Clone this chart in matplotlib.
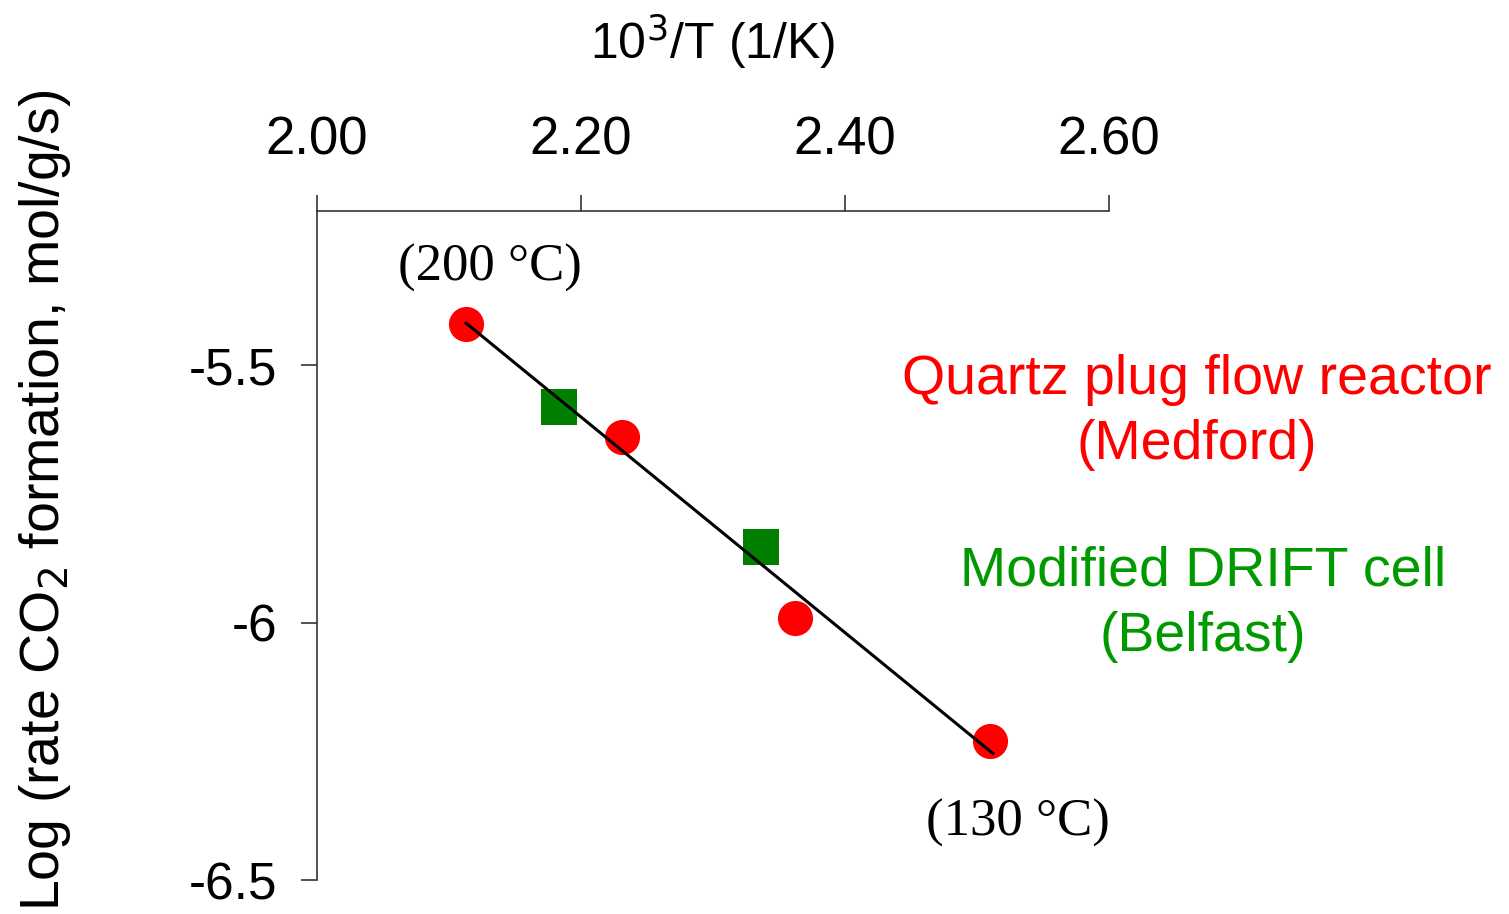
import matplotlib
matplotlib.use('Agg')
import matplotlib.pyplot as plt

# Arrhenius data: 10^3/T vs log rate
quartz_x = [2.113, 2.231, 2.362, 2.510]
quartz_y = [-5.42, -5.640, -5.991, -6.229]
drift_x = [2.183, 2.336]
drift_y = [-5.580, -5.853]
fit_x = [2.113, 2.512]
fit_y = [-5.418, -6.254]

xticks = [2.0, 2.2, 2.4, 2.6]
xticklabels = ['2.00', '2.20', '2.40', '2.60']
yticks = [-5.5, -6.0, -6.5]
yticklabels = ['-5.5', '-6', '-6.5']

sans = 'Liberation Sans'
serif = 'Liberation Serif'

fig = plt.figure(figsize=(15.09, 9.14), dpi=100)
ax = fig.add_axes([317/1509, 1 - 880/914, (1109 - 317)/1509, (880 - 211)/914])

ax.plot(fit_x, fit_y, color='black', lw=2.2, zorder=3)
ax.scatter(quartz_x, quartz_y, s=640, marker='o', color='#ff0000', zorder=2, linewidths=0)
ax.scatter(drift_x, drift_y, s=640, marker='s', color='#007f00', zorder=2, linewidths=0)

ax.set_xlim(2.0, 2.6)
ax.set_ylim(-6.5, -5.2)

ax.spines['right'].set_visible(False)
ax.spines['bottom'].set_visible(False)
for s in ['top', 'left']:
    ax.spines[s].set_linewidth(1.2)
    ax.spines[s].set_color('#333333')

ax.xaxis.set_ticks_position('top')
ax.xaxis.set_label_position('top')
ax.set_xticks(xticks)
ax.set_xticklabels(xticklabels, fontfamily=sans, fontsize=38)
ax.set_yticks(yticks)
ax.set_yticklabels(yticklabels, fontfamily=sans, fontsize=37)
ax.tick_params(axis='x', direction='out', length=11.5, width=1.2, color='#333333', pad=21)
ax.tick_params(axis='y', direction='out', length=11.5, width=1.2, color='#333333', pad=17)

ax.set_xlabel(r'10$^3$/T (1/K)', fontfamily=sans, fontsize=36, labelpad=41)
fig.text(45/1509, 1 - 500/914, r'Log (rate CO$_2$ formation, mol/g/s)', fontfamily=sans,
         fontsize=40, rotation=90, ha='center', va='center')

ax.text(2.131, -5.31, '(200 °C)', fontfamily=serif, fontsize=38, ha='center', va='center')
ax.text(2.531, -6.39, '(130 °C)', fontfamily=serif, fontsize=38, ha='center', va='center')

fig.text(1197/1509, 1 - 380/914, 'Quartz plug flow reactor', color='#ff0000', fontfamily=sans,
         fontsize=40, ha='center', va='center')
fig.text(1197/1509, 1 - 445/914, '(Medford)', color='#ff0000', fontfamily=sans,
         fontsize=40, ha='center', va='center')
fig.text(1203/1509, 1 - 572/914, 'Modified DRIFT cell', color='#009a00', fontfamily=sans,
         fontsize=40, ha='center', va='center')
fig.text(1203/1509, 1 - 637/914, '(Belfast)', color='#009a00', fontfamily=sans,
         fontsize=40, ha='center', va='center')

fig.savefig('out.png', dpi=100)
plt.close(fig)
